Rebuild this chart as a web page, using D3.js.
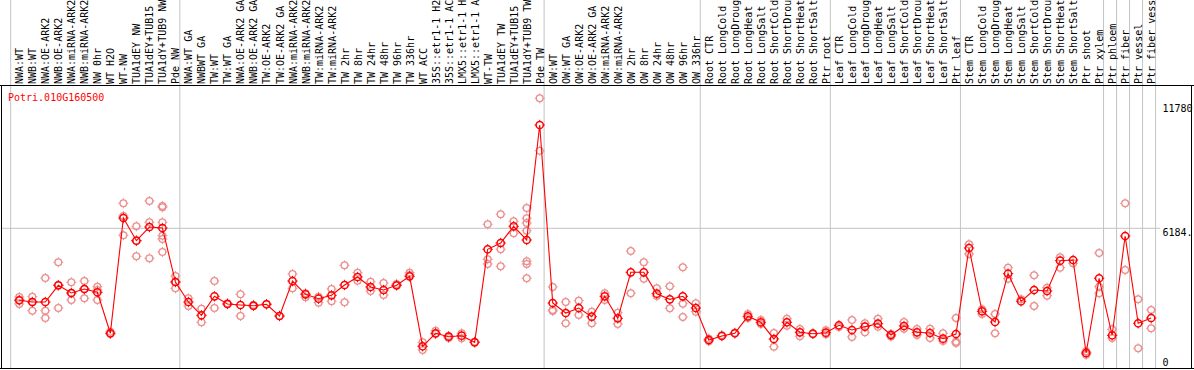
<!DOCTYPE html>
<html><head><meta charset="utf-8">
<script src="https://cdn.jsdelivr.net/npm/d3@7"></script>
<style>html,body{margin:0;padding:0;background:#fff;}svg{display:block;}</style>
</head><body>
<script>
const categories = ["NWA:WT","NWB:WT","NWA:OE-ARK2","NWB:OE-ARK2","NWA:miRNA-ARK2","NWB:miRNA-ARK2","NW 0hr","WT H2O","WT-NW","TUA1dEY NW","TUA1dEY+TUB15","TUA1dY+TUB9 NW","Pde NW",
"NWA:WT GA","NWBWT GA","TW:WT","TW:WT GA","NWA:OE-ARK2 GA","NWB:OE-ARK2 GA","TW:OE-ARK2","TW:OE-ARK2 GA","NWA:miRNA-ARK2","NWB:miRNA-ARK2","TW:miRNA-ARK2","TW:miRNA-ARK2","TW 2hr","TW 8hr","TW 24hr","TW 48hr","TW 96hr","TW 336hr","WT ACC","35S::etr1-1 H2","35S::etr1-1 AC","LMX5::etr1-1 H","LMX5::etr1-1 A","WT-TW","TUA1dEY TW","TUA1dEY+TUB15","TUA1dY+TUB9 TW","Pde TW",
"OW:WT","OW:WT GA","OW:OE-ARK2","OW:OE-ARK2 GA","OW:miRNA-ARK2","OW:miRNA-ARK2","OW 2hr","OW 8hr","OW 24hr","OW 48hr","OW 96hr","OW 336hr",
"Root CTR","Root LongCold","Root LongDroug","Root LongHeat","Root LongSalt","Root ShortCold","Root ShortDrou","Root ShortHeat","Root ShortSalt","Ptr root",
"Leaf CTR","Leaf LongCold","Leaf LongDroug","Leaf LongHeat","Leaf LongSalt","Leaf ShortCold","Leaf ShortDrou","Leaf ShortHeat","Leaf ShortSalt","Ptr leaf",
"Stem CTR","Stem LongCold","Stem LongDroug","Stem LongHeat","Stem LongSalt","Stem ShortCold","Stem ShortDrou","Stem ShortHeat","Stem ShortSalt","Ptr shoot","Ptr xylem",
"Ptr phloem","Ptr fiber","Ptr vessel","Ptr fiber vess"];

const groupStarts = [0,13,41,53,63,73,84,85,86,87,88];

const means = [2951,2874,2874,3624,3278,3458,3310,1469,6647,5627,6242,6198,3772,
2874,2277,3130,2784,2740,2708,2771,2246,3817,3220,3022,3175,3638,3997,3548,3413,3624,4028,885,1469,1316,1361,1064,5241,5524,6274,5659,10823,
2829,2380,2605,2214,3130,2142,4208,4208,3247,2995,3130,2605,
1168,1347,1469,2232,1963,1213,1963,1513,1451,1496,
1828,1617,1765,1900,1392,1796,1513,1482,1226,1437,
5299,2457,1976,4145,2906,3413,3368,4729,4760,584,3939,
1379,5838,1918,2156];

const replicates = [
[3099,2964,2784],[3112,2874,2483],[3952,2483,2156],[4657,2605,3638],[3759,2964,3278],[3817,3040,3458],[3561,3413,2964],[1540,1437],[7307,6737,5870],[6274,4927,5627],[7410,6454,4837],[7186,7127,6454,5852,5704,5120],[4042,3490,3772],
[3040,2695],[2573,1963],[3817,2605],[2816,2784],[3220,2246],[2740,2695],[2784],[2246],[4132,3490],[3265,3085],[3112,2843],[3458,2906],[4522,2861],[4190,3831],[3786,3368],[3728,3189],[3624,3683],[4190,4087],[1064,719],[1585,1437],[1347,1257],[1469,1244],[1091],[6364,4792,4581],[6813,5241,4477],[6499,5960],[7096,6633,6422,6076,4702,4581,3939],[12023,9669],
[3548,2515,2470],[2874,1918],[2933,2290],[2439,1918],[3265,2964],[2394,1886],[5165,3265],[4657,3921],[3490,3144],[3579,2591],[4433,2798,2201],[2816,2439],
[1226,1109],[1379],[1496],[2335,2156],[2066,1886],[1482,867],[2124,1810],[1662,1334],[1437],[1603,1424],
[1751],[2066,1302],[1918,1513],[2124,1765],[1437,1330],[1976,1675],[1662,1392],[1675,1257],[1469,1123],[2156,1091,1033],
[5466,5030],[2546,2335],[2335,1469],[4415,3921],[2995],[4073,2695],[3516,3157],[4882,4415],[4612],[660,507],[5075,3561,3265],
[1648,1257],[7307,4311],[2995,795],[2515,1693]];

const yTickValues = [0, 6184, 11780];
const yTickLabels = ["0", "6184.", "11780"];
const title = "Potri.010G160500";

const W = 1194, H = 370;
const FONT = "'DejaVu Sans Mono', 'Liberation Mono', monospace";
const svg = d3.select("body").append("svg").attr("width", W).attr("height", H);

const x = d3.scaleBand().domain(d3.range(categories.length)).range([10.7, 10.7 + 13.01 * categories.length]).padding(0);
const xOff = 8.6;
const mx = i => x(i) + xOff;
const y = d3.scaleLinear().domain([0, 6184]).range([366, 228.3]);

const plotTop = 85.5, plotBottom = 368.5, plotLeft = 1.5, plotRight = 1191.5;

// vertical group lines
svg.append("g").selectAll("line").data(groupStarts).join("line")
  .attr("x1", d => d < categories.length ? x(d) : x(categories.length - 1) + x.bandwidth())
  .attr("x2", d => d < categories.length ? x(d) : x(categories.length - 1) + x.bandwidth())
  .attr("y1", 0).attr("y2", plotBottom)
  .attr("stroke", "#c4c4c4").attr("stroke-width", 1);

// horizontal grid at 6184
svg.append("line").attr("x1", plotLeft).attr("x2", 1160).attr("y1", y(6184)).attr("y2", y(6184))
  .attr("stroke", "#c4c4c4").attr("stroke-width", 1);

// frame
svg.append("line").attr("x1", 0).attr("x2", W).attr("y1", plotTop).attr("y2", plotTop).attr("stroke", "#000");
svg.append("line").attr("x1", 0).attr("x2", W).attr("y1", plotBottom).attr("y2", plotBottom).attr("stroke", "#000");
svg.append("line").attr("x1", plotLeft).attr("x2", plotLeft).attr("y1", plotTop).attr("y2", plotBottom).attr("stroke", "#000");
svg.append("line").attr("x1", plotRight).attr("x2", plotRight).attr("y1", plotTop).attr("y2", plotBottom).attr("stroke", "#000");

// category labels
svg.append("g").selectAll("text").data(categories).join("text")
  .attr("transform", (d, i) => `translate(${mx(i) + 4},84) rotate(-90)`)
  .attr("font-family", FONT).attr("font-size", 10).attr("fill", "#000")
  .text(d => d);

// title
svg.append("text").attr("x", 8).attr("y", 100.5).attr("font-family", FONT).attr("font-size", 10)
  .attr("fill", "#ff0000").text(title);

// y tick labels
svg.append("g").selectAll("text").data(yTickValues).join("text")
  .attr("x", 1162.5)
  .attr("y", (d, i) => i === 0 ? 365.5 : y(d) + 8)
  .attr("font-family", FONT).attr("font-size", 10).attr("fill", "#000")
  .text((d, i) => yTickLabels[i]);

function marker(g, cx, cy, color, r, sw) {
  const m = g.append("g").attr("transform", `translate(${cx},${cy})`);
  m.append("circle").attr("r", r).attr("fill", "none").attr("stroke", color).attr("stroke-width", sw);
  const t = 1.6;
  [[0,-1],[0,1],[-1,0],[1,0]].forEach(([dx,dy]) => {
    m.append("line").attr("x1", dx*(r)).attr("y1", dy*(r)).attr("x2", dx*(r+t)).attr("y2", dy*(r+t))
      .attr("stroke", color).attr("stroke-width", 1);
  });
}

// replicates
const repG = svg.append("g");
replicates.forEach((arr, i) => arr.forEach(v => marker(repG, mx(i), y(v), "#eb8f8f", 3.4, 1.3)));

// mean line
const line = d3.line().x((d, i) => mx(i)).y(d => y(d));
svg.append("path").datum(means).attr("d", line).attr("fill", "none").attr("stroke", "#ff0000").attr("stroke-width", 1.1);

// mean markers
const meanG = svg.append("g");
means.forEach((v, i) => marker(meanG, mx(i), y(v), "#ff0000", 3.6, 1.5));
</script>
</body></html>
